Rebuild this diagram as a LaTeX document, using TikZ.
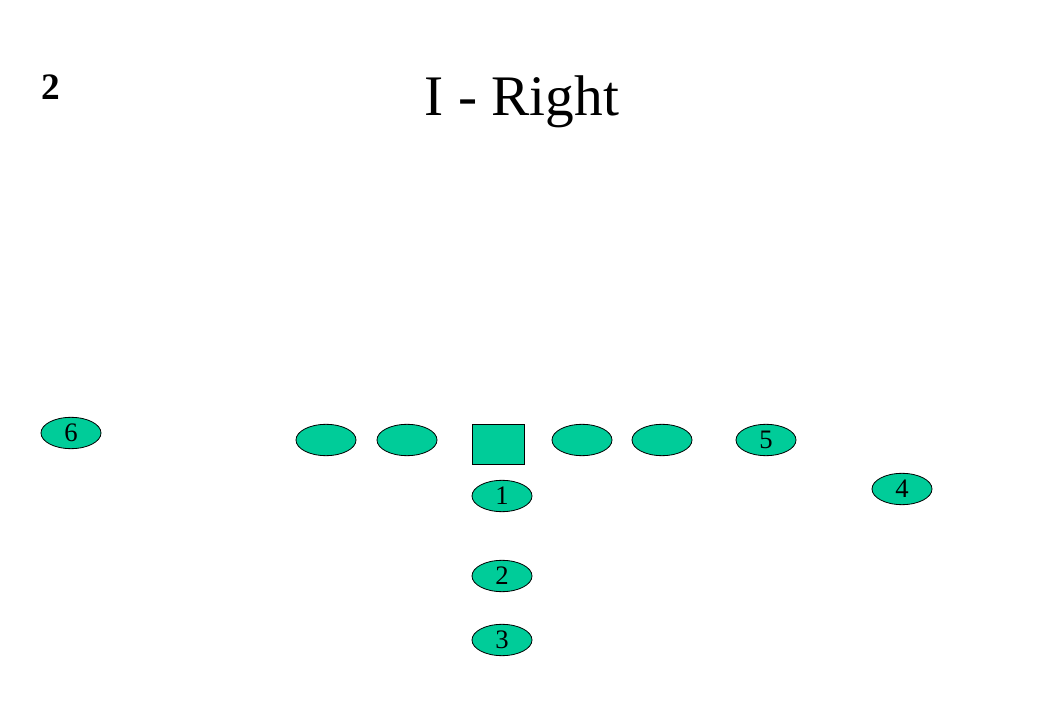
\documentclass[tikz,border=0pt]{standalone}
\usepackage{fontspec}
\setmainfont{Liberation Serif}
\usepackage{tikz}
\usetikzlibrary{shapes.geometric}

\definecolor{playergreen}{RGB}{0,204,153}

\begin{document}
\begin{tikzpicture}[x=0.75pt,y=-0.75pt,
		player/.style={ellipse,draw=black,fill=playergreen,line width=0.6pt,
			minimum width=45pt,minimum height=23.5pt,inner sep=0pt,
			font=\fontsize{20}{20}\selectfont},
		centerbox/.style={rectangle,draw=black,fill=playergreen,line width=0.6pt,
			minimum width=39pt,minimum height=30pt,inner sep=0pt}]
				\useasboundingbox (0,0) rectangle (1040,720);
				% titles
				\node[anchor=base,font=\fontsize{43}{43}\selectfont] (title) at (522,116) {I - Right};
				\node[anchor=base,font=\fontsize{28}{28}\selectfont\bfseries] (page) at (51,100) {2};
				
				% line
				\node[player] (lt) at (326,440) {};
				\node[player] (lg) at (407,440) {};
				\node[centerbox] (c) at (498,444) {};
				\node[player] (rg) at (582,440) {};
				\node[player] (rt) at (662,440) {};
				
				% backs and receivers
				\node[player] (p5) at (766,440) {5};
				\node[player] (p4) at (902,489) {4};
				\node[player] (p6) at (71,433) {6};
				\node[player] (p1) at (502,496) {1};
				\node[player] (p2) at (502,576) {2};
				\node[player] (p3) at (502,640) {3};
			\end{tikzpicture}
\end{document}
